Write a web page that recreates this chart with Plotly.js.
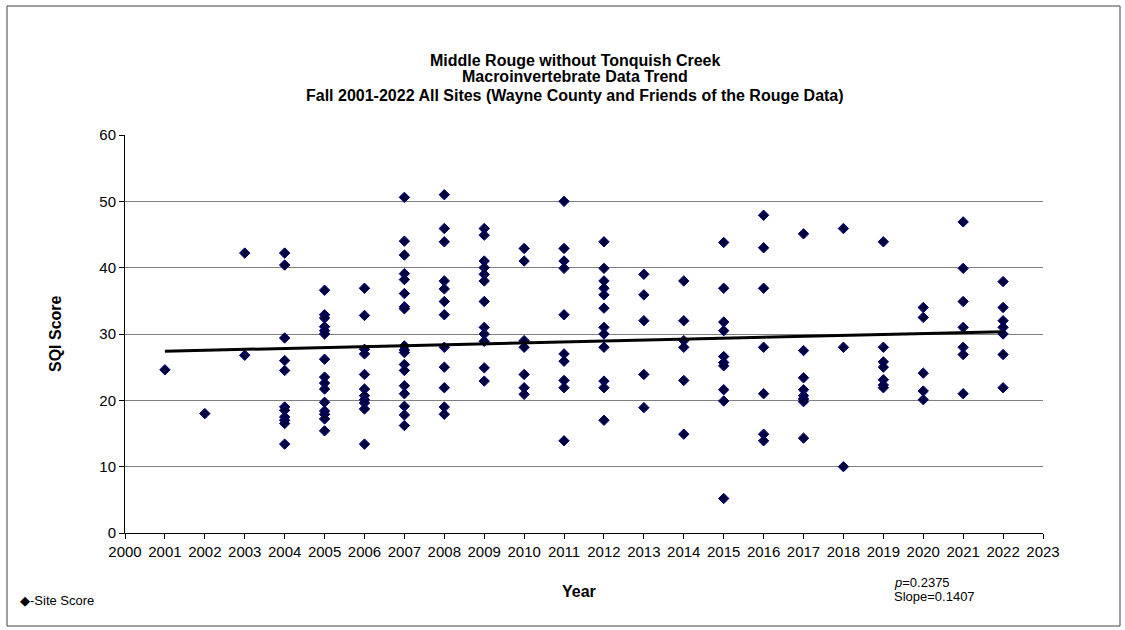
<!DOCTYPE html>
<html>
<head>
<meta charset="utf-8">
<script src="https://cdn.plot.ly/plotly-3.0.1.min.js"></script>
<style>
  html, body { margin: 0; padding: 0; background: #ffffff; }
  #chart { width: 1125px; height: 630px; }
</style>
</head>
<body>
<div id="chart"></div>
<script>
// Sampling years and the SQI score of every site sampled that fall
const years = [2001, 2002, 2003, 2004, 2005, 2006, 2007, 2008, 2009, 2010, 2011,
               2012, 2013, 2014, 2015, 2016, 2017, 2018, 2019, 2020, 2021, 2022];

const scoresByYear = [
  [24.6],
  [18.0],
  [42.2, 26.8],
  [42.2, 40.4, 29.4, 26.0, 24.5, 19.0, 18.5, 17.5, 17.0, 16.5, 13.4],
  [36.6, 32.9, 32.4, 31.1, 30.5, 30.0, 26.2, 23.5, 22.6, 21.7, 19.7, 18.4, 17.9, 17.2, 15.4],
  [36.9, 32.8, 27.7, 27.0, 23.9, 21.7, 20.7, 20.1, 19.6, 18.7, 13.4],
  [50.6, 44.0, 41.9, 39.1, 38.2, 36.1, 34.1, 33.8, 28.2, 27.6, 27.2, 25.4, 24.5, 22.2, 21.0, 19.1, 17.8, 16.2],
  [51.0, 45.9, 43.9, 38.0, 36.8, 34.9, 32.9, 28.0, 25.0, 21.9, 19.0, 17.9],
  [45.9, 44.9, 41.0, 40.0, 39.0, 38.0, 34.9, 31.0, 30.0, 28.9, 24.9, 22.9],
  [42.9, 41.0, 29.0, 28.0, 23.9, 21.9, 20.9],
  [50.0, 42.9, 41.0, 39.9, 32.9, 27.0, 25.9, 23.0, 21.9, 13.9],
  [43.9, 39.9, 38.0, 36.9, 35.9, 33.9, 31.0, 30.0, 28.0, 22.9, 21.9, 17.0],
  [39.0, 35.9, 32.0, 23.9, 18.9],
  [38.0, 32.0, 29.0, 28.0, 23.0, 14.9],
  [43.8, 36.9, 31.8, 30.5, 26.6, 25.7, 25.2, 21.6, 19.9, 5.2],
  [47.9, 43.0, 36.9, 28.0, 21.0, 14.9, 13.9],
  [45.1, 27.5, 23.4, 21.6, 20.7, 20.2, 19.8, 14.3],
  [45.9, 28.0, 10.0],
  [43.9, 28.0, 25.8, 25.0, 23.1, 22.3, 21.9],
  [34.0, 32.5, 24.1, 21.4, 20.1],
  [46.9, 39.9, 34.9, 31.0, 28.0, 26.9, 21.0],
  [37.9, 34.0, 32.0, 31.0, 30.0, 26.9, 21.9]
];

// Linear trend statistics
const trendSlope = 0.1407;
const trendPValue = 0.2375;
const trendAtFirstYear = 27.4;

const titleLines = [
  'Middle Rouge without Tonquish Creek',
  'Macroinvertebrate Data Trend',
  'Fall 2001-2022 All Sites (Wayne County and Friends of the Rouge Data)'
];

// Flatten to one point per site sample
const siteYear = [];
const siteScore = [];
years.forEach((yr, i) => {
  scoresByYear[i].forEach(v => { siteYear.push(yr); siteScore.push(v); });
});

const firstYear = years[0];
const lastYear = years[years.length - 1];
const trendX = [firstYear, lastYear];
const trendY = trendX.map(x => trendAtFirstYear + trendSlope * (x - firstYear));

// Plot area in pixels, used to place free text in paper units
const W = 1125, H = 630;
const M = { l: 125, r: 82, t: 135, b: 97 };
const pw = W - M.l - M.r, ph = H - M.t - M.b;
const px = x => (x - M.l) / pw;
const py = y => (H - M.b - y) / ph;

const FONT = '"Liberation Sans", Arial, Helvetica, sans-serif';
const txt = (size, weight) => ({ family: FONT, size: size, color: '#000000', weight: weight || 'normal' });

const traces = [
  {
    type: 'scatter', mode: 'markers', name: 'Site Score',
    x: siteYear, y: siteScore,
    marker: { symbol: 'diamond', size: 8, color: '#00003c', line: { color: '#000080', width: 1 } },
    hoverinfo: 'x+y'
  },
  {
    type: 'scatter', mode: 'lines', name: 'Trend',
    x: trendX, y: trendY,
    line: { color: '#000000', width: 3 },
    hoverinfo: 'skip'
  }
];

// Title: one centred line per row, with the tight row spacing of the chart heading
const titleRowsY = [60, 77, 96];
const titleAnnotations = titleLines.map((line, i) => ({
  text: '<b>' + line + '</b>', xref: 'paper', yref: 'paper',
  x: px(575), y: py(titleRowsY[i]), xanchor: 'center', yanchor: 'middle',
  showarrow: false, font: txt(16)
}));

const layout = {
  width: W, height: H,
  margin: M,
  paper_bgcolor: '#ffffff', plot_bgcolor: '#ffffff',
  showlegend: false,
  font: txt(14),
  xaxis: {
    range: [2000, 2023], dtick: 1, tick0: 2000,
    showgrid: false, zeroline: false,
    showline: true, linecolor: '#000000', linewidth: 1,
    ticks: 'outside', ticklen: 5, tickcolor: '#000000',
    tickfont: txt(15),
    fixedrange: true
  },
  yaxis: {
    range: [0, 60], dtick: 10, tick0: 0,
    showgrid: true, gridcolor: '#7f7f7f', gridwidth: 1,
    zeroline: false,
    showline: true, linecolor: '#000000', linewidth: 1,
    ticks: 'outside', ticklen: 5, tickcolor: '#000000',
    tickfont: txt(15),
    fixedrange: true
  },
  shapes: [
    {
      type: 'rect', xref: 'paper', yref: 'paper',
      x0: px(7), x1: px(1120), y0: py(626), y1: py(6),
      line: { color: '#404040', width: 1 }, fillcolor: 'rgba(0,0,0,0)', layer: 'below'
    }
  ],
  annotations: titleAnnotations.concat([
    {
      text: '<b>SQI Score</b>', xref: 'paper', yref: 'paper',
      x: px(55), y: 0.5, xanchor: 'center', yanchor: 'middle',
      textangle: -90, showarrow: false, font: txt(16)
    },
    {
      text: '<b>Year</b>', xref: 'paper', yref: 'paper',
      x: px(579), y: py(591), xanchor: 'center', yanchor: 'middle',
      showarrow: false, font: txt(16)
    },
    {
      text: '\u25C6-Site Score', xref: 'paper', yref: 'paper',
      x: px(18), y: py(600), xanchor: 'left', yanchor: 'middle',
      showarrow: false, font: txt(13)
    },
    {
      text: '<i>p</i>=' + trendPValue,
      xref: 'paper', yref: 'paper',
      x: px(892), y: py(582), xanchor: 'left', yanchor: 'middle', align: 'left',
      showarrow: false, font: txt(13)
    },
    {
      text: 'Slope=' + trendSlope,
      xref: 'paper', yref: 'paper',
      x: px(892), y: py(596), xanchor: 'left', yanchor: 'middle', align: 'left',
      showarrow: false, font: txt(13)
    }
  ])
};

Plotly.newPlot('chart', traces, layout, { displayModeBar: false, staticPlot: true });
</script>
</body>
</html>
